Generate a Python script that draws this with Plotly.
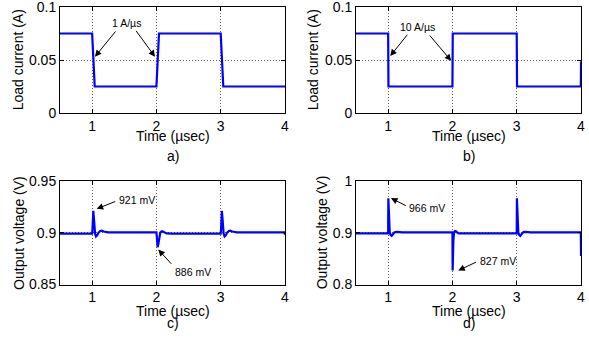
import plotly.graph_objects as go

# ---- data ----
t_a = [0.5, 1.0, 1.04, 2.0, 2.04, 3.0, 3.04, 4.0]
i_a = [0.075, 0.075, 0.025, 0.025, 0.075, 0.075, 0.025, 0.025]

t_b = [0.5, 1.0, 1.005, 2.0, 2.005, 3.0, 3.005, 3.9975, 4.0]
i_b = [0.075, 0.075, 0.025, 0.025, 0.075, 0.075, 0.025, 0.025, 0.0487]

t_c = [0.5, 1.0, 1.005, 1.018, 1.03, 1.045, 1.06, 1.08, 1.1, 1.125, 1.15, 1.18, 1.25,
       2.0, 2.005, 2.018, 2.03, 2.045, 2.06, 2.08, 2.1, 2.13, 2.16, 2.25,
       3.0, 3.005, 3.018, 3.03, 3.045, 3.06, 3.08, 3.1, 3.125, 3.15, 3.18, 3.25,
       3.99, 4.0]
v_c = [0.899, 0.899, 0.903, 0.921, 0.912, 0.899, 0.8963, 0.8975, 0.9, 0.9015, 0.9018, 0.901, 0.9003,
       0.9003, 0.897, 0.886, 0.889, 0.8965, 0.9, 0.9012, 0.9012, 0.9, 0.8992, 0.899,
       0.899, 0.903, 0.921, 0.912, 0.899, 0.8963, 0.8975, 0.9, 0.9015, 0.9018, 0.901, 0.9003,
       0.9003, 0.898]

t_d = [0.5, 1.0, 1.003, 1.008, 1.015, 1.025, 1.04, 1.055, 1.075, 1.1, 1.13, 1.16, 1.22,
       2.0, 2.003, 2.008, 2.015, 2.025, 2.04, 2.055, 2.075, 2.1, 2.15,
       3.0, 3.003, 3.008, 3.015, 3.025, 3.04, 3.055, 3.075, 3.1, 3.13, 3.16, 3.22,
       3.997, 4.0]
v_d = [0.8985, 0.8985, 0.966, 0.945, 0.915, 0.9, 0.895, 0.8935, 0.897, 0.9005, 0.9015, 0.901, 0.9003,
       0.9003, 0.827, 0.85, 0.885, 0.9, 0.903, 0.9025, 0.9, 0.8985, 0.8985,
       0.8985, 0.966, 0.945, 0.915, 0.9, 0.895, 0.8935, 0.897, 0.9005, 0.9015, 0.901, 0.9003,
       0.9003, 0.855]

x_ticks = [1, 2, 3, 4]
x_ticktext = ["1", "2", "3", "4"]
ya_ticks = [0, 0.05, 0.1]
ya_text = ["0", "0.05", "0.1"]
yc_ticks = [0.85, 0.9, 0.95]
yc_text = ["0.85", "0.9", "0.95"]
yd_ticks = [0.8, 0.9, 1.0]
yd_text = ["0.8", "0.9", "1"]

W, H = 589, 339
FONT = "Liberation Sans, Arial, Helvetica, sans-serif"
BLUE = "#0000ff"
EPS = 1e-6

def px_x(p):
    return p / W

def px_y(p):
    return 1 - p / H

fig = go.Figure()
for t, v, xa, ya in [(t_a, i_a, "x", "y"), (t_b, i_b, "x2", "y2"),
                     (t_c, v_c, "x3", "y3"), (t_d, v_d, "x4", "y4")]:
    fig.add_trace(go.Scatter(x=t, y=v, mode="lines", xaxis=xa, yaxis=ya,
                             line=dict(color=BLUE, width=2.2), showlegend=False,
                             hoverinfo="skip"))

common = dict(showline=True, linecolor="black", linewidth=1, mirror="ticks",
              ticks="inside", ticklen=4, tickcolor="black", tickwidth=1,
              showgrid=True, gridcolor="#666", griddash="1px,2px", gridwidth=1,
              zeroline=False, tickfont=dict(size=14, color="black", family=FONT),
              ticklabeloverflow="allow",
              automargin=False, fixedrange=True)

dom_xl = [px_x(60), px_x(285)]
dom_xr = [px_x(356), px_x(581)]
dom_yt = [px_y(113), px_y(7)]
dom_yb = [px_y(284.5), px_y(180.7)]

def xax(dom, anchor):
    return dict(common, domain=dom, anchor=anchor, range=[0.5, 4 + EPS],
                tickmode="array", tickvals=x_ticks, ticktext=x_ticktext)

def yax(dom, anchor, rng, tv, tt):
    return dict(common, domain=dom, anchor=anchor, range=[rng[0] - EPS, rng[1] + EPS],
                tickmode="array", tickvals=tv, ticktext=tt)

fig.update_layout(
    width=W, height=H,
    margin=dict(l=0, r=0, t=0, b=0),
    paper_bgcolor="white", plot_bgcolor="white",
    font=dict(family=FONT, size=14, color="black"),
    xaxis=xax(dom_xl, "y"),
    yaxis=yax(dom_yt, "x", [0, 0.1], ya_ticks, ya_text),
    xaxis2=xax(dom_xr, "y2"),
    yaxis2=yax(dom_yt, "x2", [0, 0.1], ya_ticks, ya_text),
    xaxis3=xax(dom_xl, "y3"),
    yaxis3=yax(dom_yb, "x3", [0.85, 0.95], yc_ticks, yc_text),
    xaxis4=xax(dom_xr, "y4"),
    yaxis4=yax(dom_yb, "x4", [0.8, 1.0], yd_ticks, yd_text),
)

ann = []
# axis titles and panel labels (paper coords)
def ptext(text, x, y, angle=0, size=14):
    ann.append(dict(text=text, xref="paper", yref="paper", x=px_x(x), y=px_y(y),
                    xanchor="center", yanchor="middle", showarrow=False,
                    textangle=angle, font=dict(size=size, family=FONT, color="black")))

ptext("Load current (A)", 18.3, 60, -90)
ptext("Load current (A)", 313.3, 60, -90)
ptext("Output voltage (V)", 18.3, 232.6, -90)
ptext("Output voltage (V)", 321.7, 232.6, -90)
ptext("Time (µsec)", 172.5, 136)
ptext("Time (µsec)", 468.5, 136)
ptext("Time (µsec)", 172.5, 310.5)
ptext("Time (µsec)", 468.5, 310.5)
ptext("a)", 172.5, 156)
ptext("b)", 468.5, 156)
ptext("c)", 172.5, 322.5)
ptext("d)", 468.5, 322.5)

def dtext(text, x, y, xr, yr, anchor="center"):
    ann.append(dict(text=text, xref=xr, yref=yr, x=x, y=y, xanchor=anchor,
                    yanchor="middle", showarrow=False,
                    font=dict(size=10.5, family=FONT, color="black")))

def arrow(x, y, ax, ay, xr, yr):
    ann.append(dict(text="", xref=xr, yref=yr, x=x, y=y, ax=ax, ay=ay,
                    axref=xr, ayref=yr, showarrow=True, arrowhead=2,
                    arrowsize=1.3, arrowwidth=1, arrowcolor="black", standoff=0))

# panel a
dtext("1 A/µs", 1.527, 0.085, "x", "y")
arrow(1.044, 0.0531, 1.382, 0.0783, "x", "y")
arrow(1.978, 0.0531, 1.667, 0.0789, "x", "y")
# panel b
dtext("10 A/µs", 1.463, 0.0808, "x2", "y2")
arrow(1.033, 0.0538, 1.317, 0.0752, "x2", "y2")
arrow(1.981, 0.0493, 1.628, 0.0745, "x2", "y2")
# panel c
dtext("921 mV", 1.382, 0.9312, "x3", "y3", "left")
arrow(1.071, 0.9229, 1.382, 0.9305, "x3", "y3")
dtext("886 mV", 2.574, 0.8622, "x3", "y3")
arrow(2.029, 0.8836, 2.253, 0.8685, "x3", "y3")
# panel d
dtext("966 mV", 1.298, 0.9474, "x4", "y4", "left")
arrow(1.044, 0.9665, 1.298, 0.9505, "x4", "y4")
dtext("827 mV", 2.393, 0.8445, "x4", "y4", "left")
arrow(2.091, 0.8269, 2.393, 0.8446, "x4", "y4")

fig.update_layout(annotations=ann)
fig.write_html(
    "out.html",
    config={"displayModeBar": False, "staticPlot": True},
    post_script="document.body.style.margin='0px';document.body.style.padding='0px';"
                "document.body.style.overflow='hidden';",
)
